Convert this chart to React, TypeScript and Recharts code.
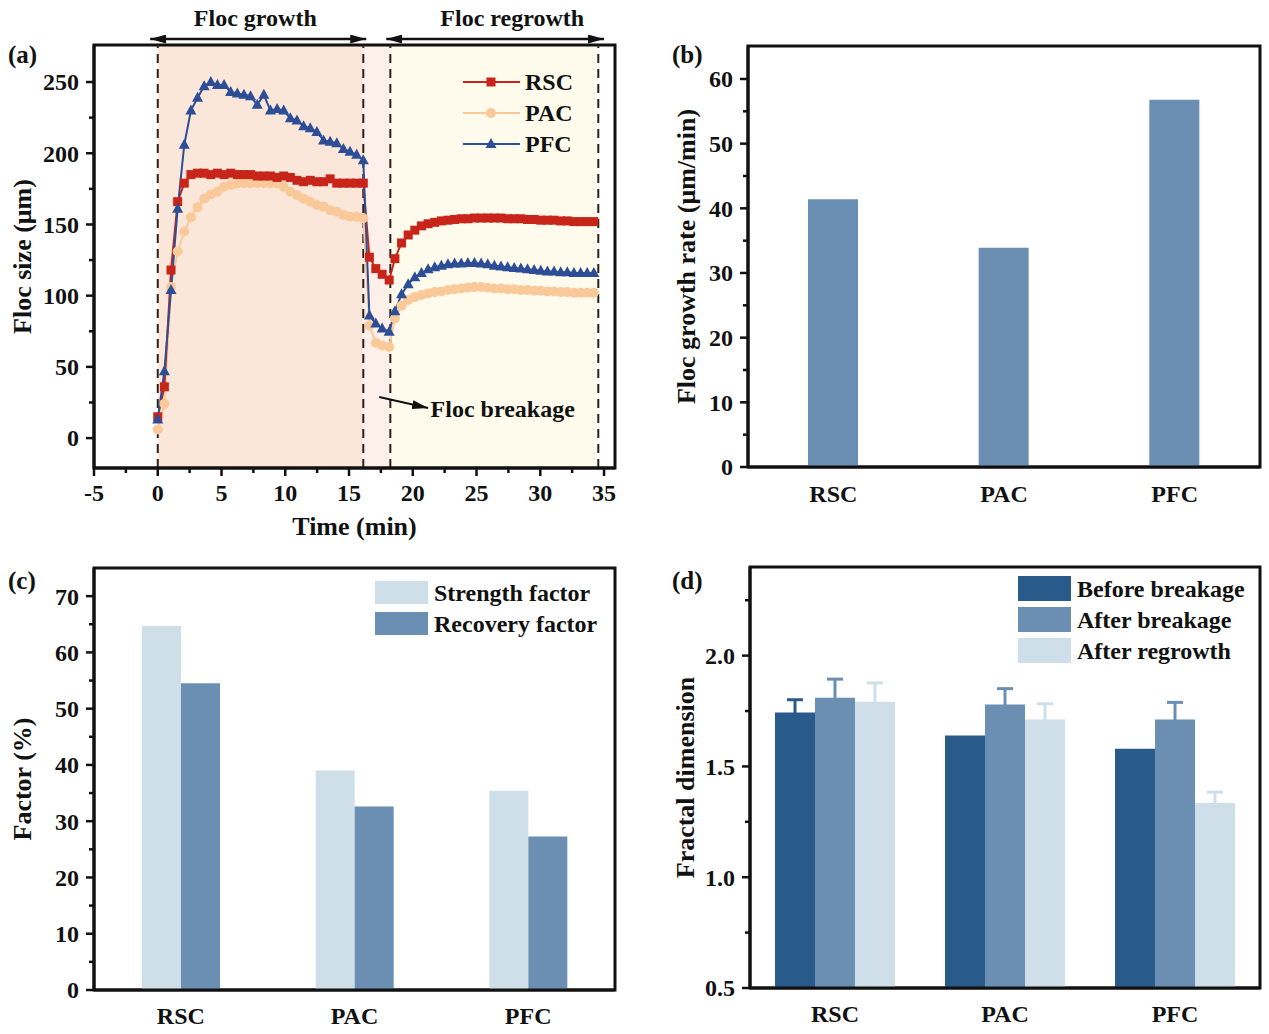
import React from 'react';
import {
  LineChart,
  Line,
  BarChart,
  Bar,
  XAxis,
  YAxis,
  ReferenceArea,
  ReferenceLine,
  ReferenceDot,
  Legend,
  ErrorBar,
  Label,
} from 'recharts';

const FONT = '"Liberation Serif", "Times New Roman", serif';
const INK = '#111';

// ---- (a) floc size vs time ----
const time = [
  0, 0.52, 1.04, 1.56, 2.08, 2.6, 3.12, 3.64, 4.16, 4.68, 5.2, 5.72, 6.24, 6.76, 7.28, 7.8,
  8.32, 8.84, 9.36, 9.88, 10.4, 10.92, 11.44, 11.96, 12.48, 13.0, 13.52, 14.04, 14.56, 15.08, 15.6, 16.12,
  16.6, 17.1, 17.6, 18.15,
  18.6, 19.12, 19.64, 20.16, 20.68, 21.2, 21.72, 22.24, 22.76, 23.28, 23.8, 24.32, 24.84, 25.36, 25.88, 26.4,
  26.92, 27.44, 27.96, 28.48, 29.0, 29.52, 30.04, 30.56, 31.08, 31.6, 32.12, 32.64, 33.16, 33.68, 34.2,
];
const rscSize = [
  15, 36, 118, 166, 179, 185, 186, 186, 185, 186, 185, 186, 185, 185, 185, 184,
  184, 184, 183, 184, 183, 181, 180, 181, 180, 180, 182, 179, 179, 179, 179, 179,
  127, 119, 115, 111,
  126, 137, 142.6, 146, 149, 150.5, 151.5, 152.5, 153, 153.5, 154, 154, 154.5, 154.5, 154.5, 154.5,
  154.5, 154, 154, 154, 153.5, 153.5, 153, 153, 153, 152.5, 152.5, 152, 152, 152, 152,
];
const pacSize = [
  6, 24, 106, 131, 145, 155, 162, 168, 171, 173, 176.5, 177.7, 178.8, 179, 179, 179,
  179, 179, 178.8, 176.5, 173, 170.6, 168, 166, 163.6, 162.4, 160, 159, 156.6, 155.4, 155.4, 154.3,
  79, 67, 65, 64,
  84, 93, 97, 99, 100.5, 101.5, 102.5, 103, 104, 104.5, 105, 105.5, 106, 106, 105.5, 105,
  105, 104.5, 104.5, 104, 104, 103.5, 103.5, 103, 103, 102.5, 102.5, 102, 102, 102, 102,
];
const pfcSize = [
  13, 47, 104, 161, 206, 230, 239, 247, 250, 248, 248, 243, 242, 241, 240, 234,
  241, 230, 231, 230, 224.5, 223, 219, 217.5, 215, 209, 208, 207, 203, 201, 199, 195,
  86, 80.5, 77, 74.6,
  89, 101, 108, 113, 116, 118.5, 120, 121, 122, 122.5, 122.5, 123, 123, 122.5, 122, 121,
  120.5, 120, 119.5, 119, 118.5, 118, 117.5, 117, 117, 116.5, 116.5, 116, 116, 116, 116,
];
const sizeTicks = [0, 25, 50, 75, 100, 125, 150, 175, 200, 225, 250];
const timeTicks = [-5, -2.5, 0, 2.5, 5, 7.5, 10, 12.5, 15, 17.5, 20, 22.5, 25, 27.5, 30, 32.5, 35];
const phaseEdges = [0, 16.12, 18.24, 34.55];
const phaseFills = ['#FBE7D9', '#FDF0EA', '#FEFBEC'];
const arrowLevel = 280.2;
const growthArrow = [-0.59, 16.35];
const regrowthArrow = [17.92, 35.0];
const breakArrow = [{ x: 17.37, y: 28.8 }, { x: 21.2, y: 21.1 }];
const topNotes = [
  { x: 7.65, y: 295, text: 'Floc growth' },
  { x: 27.8, y: 295, text: 'Floc regrowth' },
];
const breakNote = { x: 21.4, y: 20.4, text: 'Floc breakage' };

// ---- (b), (c), (d) ----
const coagulants = ['RSC', 'PAC', 'PFC'];
const growthRate = [41.4, 33.9, 56.8];
const rateTicks = [0, 5, 10, 15, 20, 25, 30, 35, 40, 45, 50, 55, 60];

const strengthFactor = [64.7, 39.0, 35.4];
const recoveryFactor = [54.5, 32.6, 27.3];
const factorTicks = [0, 5, 10, 15, 20, 25, 30, 35, 40, 45, 50, 55, 60, 65, 70];

const fdBefore = [1.743, 1.639, 1.58];
const fdAfterBreak = [1.81, 1.779, 1.712];
const fdAfterRegrowth = [1.792, 1.712, 1.335];
const fdBeforeErr = [0.058, 0, 0];
const fdAfterBreakErr = [0.084, 0.072, 0.077];
const fdAfterRegrowthErr = [0.085, 0.071, 0.049];
const fractalTicks = [0.5, 0.75, 1.0, 1.25, 1.5, 1.75, 2.0, 2.25];

const RED = '#C8251A';
const PEACH = '#F9C99A';
const NAVY = '#2D4E96';
const BLUE_DARK = '#285A8A';
const BLUE_MID = '#6A8FB2';
const BLUE_LIGHT = '#CEDFEA';

const sizeRows = time.map((t, i) => ({ t, RSC: rscSize[i], PAC: pacSize[i], PFC: pfcSize[i] }));
const rateRows = coagulants.map((name, i) => ({ name, rate: growthRate[i] }));
const factorRows = coagulants.map((name, i) => ({
  name,
  strength: strengthFactor[i],
  recovery: recoveryFactor[i],
}));
// one-sided (upper) error bars; the lower cap is tucked just inside the bar
const upperOnly = (e: number) => (e > 0 ? [0.012, e] : null);
const fractalRows = coagulants.map((name, i) => ({
  name,
  before: fdBefore[i],
  after: fdAfterBreak[i],
  regrowth: fdAfterRegrowth[i],
  beforeErr: upperOnly(fdBeforeErr[i]),
  afterErr: upperOnly(fdAfterBreakErr[i]),
  regrowthErr: upperOnly(fdAfterRegrowthErr[i]),
}));

const TICK_FONT = 24;
const TITLE_FONT = 26;

// draws tick marks itself so minor ticks can be shorter and unlabelled
const leftTick = (isMajor: (v: number) => boolean, fmt: (v: number) => string = String) => (props: any) => {
  const { x, y, payload } = props;
  const big = isMajor(payload.value);
  return (
    <g>
      <line x1={x} y1={y} x2={x - (big ? 8 : 5)} y2={y} stroke={INK} strokeWidth={2.5} />
      {big && (
        <text x={x - 15} y={y} dy="0.35em" textAnchor="end" fontSize={TICK_FONT} fill={INK}>
          {fmt(payload.value)}
        </text>
      )}
    </g>
  );
};

const bottomTick = (isMajor: (v: number) => boolean, drawLines: boolean, baseline: number) => (props: any) => {
  const { x, y, payload } = props;
  const big = isMajor(payload.value);
  return (
    <g>
      {drawLines && <line x1={x} y1={y} x2={x} y2={y + (big ? 8 : 5)} stroke={INK} strokeWidth={2.5} />}
      {big && (
        <text x={x} y={y + baseline} textAnchor="middle" fontSize={TICK_FONT} fill={INK}>
          {payload.value}
        </text>
      )}
    </g>
  );
};

const yTitle = (text: string, dx: number) => (props: any) => {
  const vb = props.viewBox;
  return (
    <text
      transform={`translate(${vb.x + dx}, ${vb.y + vb.height / 2}) rotate(-90)`}
      textAnchor="middle"
      dy="0.35em"
      fontSize={TITLE_FONT}
      fill={INK}
    >
      {text}
    </text>
  );
};

const squareDot = (color: string) => (p: any) => (
  <rect key={`s${p.index}`} x={p.cx - 4.5} y={p.cy - 4.5} width={9} height={9} fill={color} />
);
const circleDot = (color: string) => (p: any) => (
  <circle key={`c${p.index}`} cx={p.cx} cy={p.cy} r={5} fill={color} />
);
const triangleDot = (color: string) => (p: any) => (
  <path
    key={`t${p.index}`}
    d={`M${p.cx},${p.cy - 6} L${p.cx + 5.5},${p.cy + 4} L${p.cx - 5.5},${p.cy + 4}Z`}
    fill={color}
  />
);

const arrowShape = (both: boolean, width: number) => (p: any) => (
  <line
    x1={p.x1}
    y1={p.y1}
    x2={p.x2}
    y2={p.y2}
    stroke={INK}
    strokeWidth={width}
    markerEnd="url(#arrowHead)"
    markerStart={both ? 'url(#arrowHead)' : undefined}
  />
);

const noteShape = (text: string, anchor: 'middle' | 'start') => (p: any) => (
  <text x={p.cx} y={p.cy} dy="0.35em" textAnchor={anchor} fontSize={TICK_FONT} fill={INK}>
    {text}
  </text>
);

const sizeSeries = [
  { key: 'RSC', color: RED, marker: 'square' },
  { key: 'PAC', color: PEACH, marker: 'circle' },
  { key: 'PFC', color: NAVY, marker: 'triangle' },
];

const SizeLegend = () => (
  <svg width={140} height={96}>
    {sizeSeries.map((s, i) => {
      const cy = 16 + i * 31;
      const p = { cx: 31, cy, index: i };
      return (
        <g key={s.key}>
          <line x1={3} x2={60} y1={cy} y2={cy} stroke={s.color} strokeWidth={2} />
          {s.marker === 'square' && squareDot(s.color)(p)}
          {s.marker === 'circle' && circleDot(s.color)(p)}
          {s.marker === 'triangle' && triangleDot(s.color)(p)}
          <text x={65} y={cy} dy="0.35em" fontSize={TICK_FONT} fill={INK}>
            {s.key}
          </text>
        </g>
      );
    })}
  </svg>
);

const SwatchLegend = ({ items, h }: { items: { label: string; color: string }[]; h: number }) => (
  <svg width={240} height={items.length * 31 + 6}>
    {items.map((it, i) => {
      const top = 6 + i * 31;
      return (
        <g key={it.label}>
          <rect x={3} y={top} width={53} height={h} fill={it.color} />
          <text x={62} y={top + h / 2} dy="0.35em" fontSize={TICK_FONT} fill={INK}>
            {it.label}
          </text>
        </g>
      );
    })}
  </svg>
);

const panelLabel = (text: string, left: number, top: number) => (
  <div style={{ position: 'absolute', left, top, fontSize: 25, lineHeight: '28px', color: INK }}>{text}</div>
);

const frameProps = { fill: 'none', fillOpacity: 0, stroke: INK, strokeWidth: 3, ifOverflow: 'visible' as const };

export default function App() {
  return (
    <div
      style={{
        position: 'absolute',
        left: 0,
        top: 0,
        width: 1269,
        height: 1034,
        background: '#fff',
        fontFamily: FONT,
        fontWeight: 'bold',
      }}
    >
      <svg width={0} height={0} style={{ position: 'absolute' }}>
        <defs>
          <marker
            id="arrowHead"
            viewBox="0 0 16 9"
            refX={16}
            refY={4.5}
            markerWidth={16}
            markerHeight={9}
            markerUnits="userSpaceOnUse"
            orient="auto-start-reverse"
          >
            <path d="M0,0 L16,4.5 L0,9 Z" fill={INK} />
          </marker>
        </defs>
      </svg>

      {/* (a) */}
      <div style={{ position: 'absolute', left: 0, top: 0 }}>
        <LineChart width={630} height={548} data={sizeRows} margin={{ top: 45, right: 15, bottom: 0, left: 0 }}>
          {phaseFills.map((fill, i) => (
            <ReferenceArea
              key={fill}
              x1={phaseEdges[i]}
              x2={phaseEdges[i + 1]}
              y1={-21}
              y2={276}
              fill={fill}
              fillOpacity={1}
              stroke="none"
            />
          ))}
          {phaseEdges.map((x) => (
            <ReferenceLine key={x} x={x} stroke="#2B2118" strokeWidth={2} strokeDasharray="9 6" />
          ))}
          <XAxis
            type="number"
            dataKey="t"
            domain={[-5, 35.86]}
            ticks={timeTicks}
            interval={0}
            allowDataOverflow
            height={80}
            tickSize={0}
            tickMargin={0}
            tickLine={false}
            axisLine={{ stroke: INK, strokeWidth: 3 }}
            tick={bottomTick((v) => v % 5 === 0, true, 33)}
          >
            <Label
              content={(p: any) => (
                <text
                  x={p.viewBox.x + p.viewBox.width / 2}
                  y={p.viewBox.y + 67}
                  textAnchor="middle"
                  fontSize={TITLE_FONT}
                  fill={INK}
                >
                  Time (min)
                </text>
              )}
            />
          </XAxis>
          <YAxis
            type="number"
            domain={[-21, 276]}
            ticks={sizeTicks}
            interval={0}
            allowDataOverflow
            width={94}
            tickSize={0}
            tickMargin={0}
            tickLine={false}
            axisLine={{ stroke: INK, strokeWidth: 3 }}
            tick={leftTick((v) => v % 50 === 0)}
          >
            <Label content={yTitle('Floc size (μm)', 22)} />
          </YAxis>
          <Line
            dataKey="PAC"
            stroke={PEACH}
            strokeWidth={2}
            dot={circleDot(PEACH)}
            activeDot={false}
            isAnimationActive={false}
          />
          <Line
            dataKey="RSC"
            stroke={RED}
            strokeWidth={2}
            dot={squareDot(RED)}
            activeDot={false}
            isAnimationActive={false}
          />
          <Line
            dataKey="PFC"
            stroke={NAVY}
            strokeWidth={2}
            dot={triangleDot(NAVY)}
            activeDot={false}
            isAnimationActive={false}
          />
          <ReferenceLine
            segment={[{ x: growthArrow[0], y: arrowLevel }, { x: growthArrow[1], y: arrowLevel }]}
            ifOverflow="visible"
            shape={arrowShape(true, 2.5)}
          />
          <ReferenceLine
            segment={[{ x: regrowthArrow[0], y: arrowLevel }, { x: regrowthArrow[1], y: arrowLevel }]}
            ifOverflow="visible"
            shape={arrowShape(true, 2.5)}
          />
          <ReferenceLine segment={breakArrow} ifOverflow="visible" shape={arrowShape(false, 2)} />
          {topNotes.map((n) => (
            <ReferenceDot key={n.text} x={n.x} y={n.y} r={0} ifOverflow="visible" shape={noteShape(n.text, 'middle')} />
          ))}
          <ReferenceDot
            x={breakNote.x}
            y={breakNote.y}
            r={0}
            ifOverflow="visible"
            shape={noteShape(breakNote.text, 'start')}
          />
          <ReferenceArea y1={-21} y2={276} {...frameProps} />
          <Legend
            layout="horizontal"
            verticalAlign="middle"
            align="center"
            wrapperStyle={{ left: 460, top: 66, width: 140, height: 96 }}
            content={() => <SizeLegend />}
          />
        </LineChart>
      </div>

      {/* (b) */}
      <div style={{ position: 'absolute', left: 640, top: 0 }}>
        <BarChart width={630} height={548} data={rateRows} margin={{ top: 46, right: 10, bottom: 0, left: 0 }}>
          <XAxis
            dataKey="name"
            interval={0}
            height={81}
            tickSize={0}
            tickMargin={0}
            tickLine={false}
            axisLine={{ stroke: INK, strokeWidth: 3 }}
            tick={bottomTick(() => true, false, 35)}
          />
          <YAxis
            type="number"
            domain={[0, 65.1]}
            ticks={rateTicks}
            interval={0}
            allowDataOverflow
            width={108}
            tickSize={0}
            tickMargin={0}
            tickLine={false}
            axisLine={{ stroke: INK, strokeWidth: 3 }}
            tick={leftTick((v) => v % 10 === 0)}
          >
            <Label content={yTitle('Floc growth rate (μm/min)', 46)} />
          </YAxis>
          <Bar dataKey="rate" fill={BLUE_MID} barSize={50} isAnimationActive={false} />
          <ReferenceArea y1={0} y2={65.1} {...frameProps} />
        </BarChart>
      </div>

      {/* (c) */}
      <div style={{ position: 'absolute', left: 0, top: 527 }}>
        <BarChart
          width={630}
          height={507}
          data={factorRows}
          barGap={0}
          margin={{ top: 41, right: 15, bottom: 0, left: 0 }}
        >
          <XAxis
            dataKey="name"
            interval={0}
            height={44}
            tickSize={0}
            tickMargin={0}
            tickLine={false}
            axisLine={{ stroke: INK, strokeWidth: 3 }}
            tick={bottomTick(() => true, false, 34)}
          />
          <YAxis
            type="number"
            domain={[0, 75]}
            ticks={factorTicks}
            interval={0}
            allowDataOverflow
            width={94}
            tickSize={0}
            tickMargin={0}
            tickLine={false}
            axisLine={{ stroke: INK, strokeWidth: 3 }}
            tick={leftTick((v) => v % 10 === 0)}
          >
            <Label content={yTitle('Factor (%)', 22)} />
          </YAxis>
          <Bar dataKey="strength" fill={BLUE_LIGHT} barSize={39} isAnimationActive={false} />
          <Bar dataKey="recovery" fill={BLUE_MID} barSize={39} isAnimationActive={false} />
          <ReferenceArea y1={0} y2={75} {...frameProps} />
          <Legend
            layout="horizontal"
            verticalAlign="middle"
            align="center"
            wrapperStyle={{ left: 372, top: 48, width: 240, height: 68 }}
            content={() => (
              <SwatchLegend
                h={23}
                items={[
                  { label: 'Strength factor', color: BLUE_LIGHT },
                  { label: 'Recovery factor', color: BLUE_MID },
                ]}
              />
            )}
          />
        </BarChart>
      </div>

      {/* (d) */}
      <div style={{ position: 'absolute', left: 640, top: 527 }}>
        <BarChart
          width={630}
          height={507}
          data={fractalRows}
          barGap={0}
          margin={{ top: 40, right: 10, bottom: 0, left: 0 }}
        >
          <XAxis
            dataKey="name"
            interval={0}
            height={46}
            tickSize={0}
            tickMargin={0}
            tickLine={false}
            axisLine={{ stroke: INK, strokeWidth: 3 }}
            tick={bottomTick(() => true, false, 34)}
          />
          <YAxis
            type="number"
            domain={[0.5, 2.4]}
            ticks={fractalTicks}
            interval={0}
            allowDataOverflow
            width={110}
            tickSize={0}
            tickMargin={0}
            tickLine={false}
            axisLine={{ stroke: INK, strokeWidth: 3 }}
            tick={leftTick((v) => Math.abs(v * 2 - Math.round(v * 2)) < 1e-6, (v) => v.toFixed(1))}
          >
            <Label content={yTitle('Fractal dimension', 45)} />
          </YAxis>
          <Bar dataKey="before" fill={BLUE_DARK} barSize={40} isAnimationActive={false}>
            <ErrorBar dataKey="beforeErr" direction="y" width={8} stroke={BLUE_DARK} strokeWidth={3} />
          </Bar>
          <Bar dataKey="after" fill={BLUE_MID} barSize={40} isAnimationActive={false}>
            <ErrorBar dataKey="afterErr" direction="y" width={8} stroke={BLUE_MID} strokeWidth={3} />
          </Bar>
          <Bar dataKey="regrowth" fill={BLUE_LIGHT} barSize={40} isAnimationActive={false}>
            <ErrorBar dataKey="regrowthErr" direction="y" width={8} stroke={BLUE_LIGHT} strokeWidth={3} />
          </Bar>
          <ReferenceArea y1={0.5} y2={2.4} {...frameProps} />
          <Legend
            layout="horizontal"
            verticalAlign="middle"
            align="center"
            wrapperStyle={{ left: 375, top: 43, width: 240, height: 100 }}
            content={() => (
              <SwatchLegend
                h={25}
                items={[
                  { label: 'Before breakage', color: BLUE_DARK },
                  { label: 'After breakage', color: BLUE_MID },
                  { label: 'After regrowth', color: BLUE_LIGHT },
                ]}
              />
            )}
          />
        </BarChart>
      </div>

      {panelLabel('(a)', 8, 41)}
      {panelLabel('(b)', 672, 41)}
      {panelLabel('(c)', 8, 567)}
      {panelLabel('(d)', 672, 567)}
    </div>
  );
}
